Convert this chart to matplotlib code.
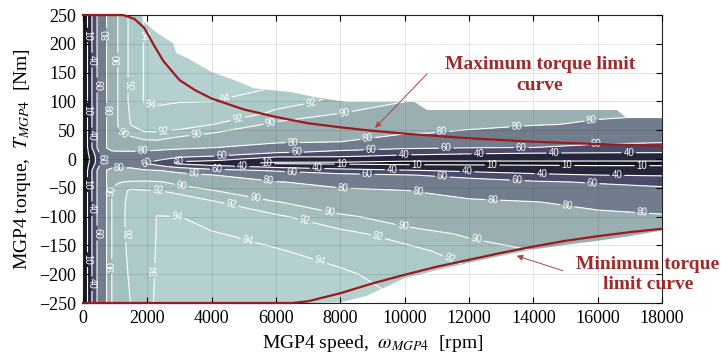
import matplotlib.pyplot as plt
import numpy as np
from matplotlib.patches import Polygon

plt.rcParams['font.family'] = 'serif'
plt.rcParams['font.serif'] = ['Liberation Serif', 'DejaVu Serif']
plt.rcParams['mathtext.fontset'] = 'stix'

# efficiency map nodes (speed columns x torque rows), efficiency in %
speed_rpm = [0, 150, 280, 440, 740, 900, 1100, 1500, 1900, 2300, 3000, 4000,
             6000, 8000, 10000, 12000, 14000, 16000, 18000]
torque_nm = [-250, -200, -160, -130, -100, -75, -55, -40, -28, -20, -13, -7, -2,
             5, 12, 20, 30, 45, 60, 80, 100, 130, 170, 210, 250]

eff_by_speed = [
    [3] * 25,
    [10.5] * 10 + [8, 5, 4, 5, 8] + [10.5] * 10,
    [40.5] * 10 + [32, 22, 20, 22, 32] + [40.5] * 10,
    [60.5] * 10 + [56, 51, 50, 51, 56] + [60.5] * 10,
    [80.5] * 10 + [77, 73, 72, 73, 77] + [80.5] * 10,
    [90.2] * 7 + [89.5, 86, 82.5, 78.5, 75, 74, 76, 79, 83, 85] + [85] * 8,
    [91.3] * 7 + [89.8, 85.5, 81.8, 79, 77.1, 75.5, 77.5, 79.4, 82.4, 86.5,
                  89.5, 90.4] + [90.5] * 6,
    [92.05, 92.25, 92.45, 92.6, 92.7, 92.6, 92.3, 90.5, 86.3, 82.1, 78.8, 76.5,
     74.5, 76.9, 79.3, 83.2, 88.4, 91.1, 92.1, 92.3] + [92.5] * 5,
    [93.2] * 5 + [92.9, 92.1, 90.6, 86.5, 81.8, 72.2, 60.5, 65, 72, 79, 83.9,
                  89.4, 91.87, 92.64, 93.55] + [94.1] * 5,
    [94.3, 94.2, 94.12, 94.06, 94.05, 92.98, 92.05, 90.44, 85.3, 80.6, 65, 52,
     61.2, 69.4, 77.6, 83.6, 89.6, 91.87, 92.78, 93.9, 94.06, 94.17, 94.3,
     94.45, 94.6],
    [94.6, 94.45, 94.3, 94.15, 94.02, 92.81, 91.63, 89.05, 83.3, 76.7, 53.3,
     35.3, 45, 65.5, 75.2, 82.4, 87.8, 91.57, 92.59, 93.56, 94.04, 94.15, 94.3,
     94.4, 94.5],
    [94.8, 94.5, 94.3, 94.1, 93.5, 92.25, 90.33, 85.3, 80.6, 66.3, 46.7, 25,
     43.5, 60.2, 70.4, 80.6, 84.3, 90.1, 92.05, 93, 94.02, 94.2, 94.45, 94.7,
     95],
    [94.6, 94.3, 94.1, 93.57, 92.3, 90.29, 85.1, 80.86, 69.1, 58.5, 34, 5,
     22.6, 44.6, 62.9, 74.3, 81.6, 85.5, 89.47, 91.8, 92.45, 94.3, 94.4, 94.4,
     94.4],
    [94.5, 94.18, 93.56, 92.47, 90.74, 86.7, 82.2, 75.35, 64.2, 50.7, 23.6, 4,
     24.3, 42.9, 56.2, 67.5, 80.1, 83.1, 86.25, 90.16, 91.76, 92.1, 92.2, 92.3,
     92.5],
    [94, 93.54, 92.5, 91.33, 88.25, 83.86, 80.35, 70.2, 61.1, 42.7, 19.07, 2,
     14.5, 35.5, 51, 63, 71.5, 80.88, 83.5, 87, 90.1, 90.2, 90.3, 90.4, 90.5],
    [93, 92.3, 91.32, 89.58, 85.35, 81.83, 75.6, 66.25, 55, 34.8, 16.7, 2,
     13.75, 31.25, 47, 61.05, 68.07, 78.6, 82.05, 85.2, 86.2, 86.5, 87, 87.5,
     88],
    [91, 90.5, 90.07, 87.2, 83.54, 80.49, 70.86, 62.3, 45.5, 29.3, 14.3, 2.5,
     13.3, 28.9, 44, 60.1, 65.7, 74.3, 80.67, 83.3, 84.1, 84.5, 85, 85.5, 86],
    [89, 88.5, 88.2, 86.53, 82.53, 77, 67, 58.5, 40.2, 25.4, 12.56, 2.5, 13.2,
     28.3, 42.5, 55.2, 63.6, 71.3, 79, 81.3, 82.3, 83, 83.5, 84, 85],
    [88, 87.2, 86.6, 86.1, 81.5, 72.9, 64.6, 54.7, 38.3, 24.5, 12.4, 2.5, 13.2,
     28.3, 41.9, 51.6, 61.5, 68.8, 76.1, 81, 81.5, 82, 82.7, 83.3, 84],
]

eff_levels = [0, 10, 40, 60, 80, 90, 92, 94, 100]
line_levels = [10, 40, 60, 80, 90, 92, 94]
fill_colors = ['#15151d', '#25253a', '#4b4b6b', '#717d8c', '#9aafb2',
               '#a5bfbf', '#adc9c8', '#b5d1cf']

# outline of the mapped operating region
top_edge_rpm = [0, 1850, 1850, 2300, 2800, 2900, 3250, 4000, 4700, 5300, 5600,
                6500, 7150, 8200, 10300, 10700, 16600, 16900, 18000]
top_edge_nm = [250, 250, 240, 219, 201, 184, 175, 151, 137, 123, 121, 116, 108,
               99, 99, 85, 85, 71, 71]
bottom_edge_rpm = [0, 7000, 8000, 8800, 10000, 11000, 12000, 13000, 14000,
                   15000, 16000, 17000, 18000]
bottom_edge_nm = [-250, -250, -249, -238, -207, -193, -180, -168, -157, -149,
                  -142, -134, -124]

# torque limit curves
max_rpm = [0, 1250, 1600, 1900, 2200, 2500, 3000, 3500, 4000, 5000, 6000, 7000,
           8000, 9000, 10000, 12000, 14000, 16000, 18000]
max_nm = [250, 250, 243, 228, 198, 170, 137, 119, 105, 86, 73, 62, 55, 49, 44,
          36, 30, 26, 23]
min_rpm = [0, 6500, 7000, 8000, 9000, 10000, 11000, 12000, 13000, 14000,
           15000, 16000, 17000, 18000]
min_nm = [-250, -250, -247, -233, -216, -201, -187, -175, -163, -152, -142,
          -134, -127, -121]

fig = plt.figure(figsize=(7.21, 3.59), dpi=100)
ax = fig.add_axes([83 / 721, 56 / 359, 579 / 721, 288 / 359])
ax.set_xlim(0, 18000)
ax.set_ylim(-250, 250)

S, T = np.meshgrid(speed_rpm, torque_nm)
E = np.array(eff_by_speed).T

outline = np.column_stack([np.r_[top_edge_rpm, bottom_edge_rpm[::-1]],
                           np.r_[top_edge_nm, bottom_edge_nm[::-1]]])
region = Polygon(outline, closed=True, transform=ax.transData)

cf = ax.contourf(S, T, E, levels=eff_levels, colors=fill_colors, zorder=1)
cf.set_clip_path(region)
cs = ax.contour(S, T, E, levels=line_levels, colors='white', linewidths=0.8,
                zorder=2)
cs.set_clip_path(region)

# spread labels along each line, roughly every 75 px, skipping crowded spots
pts, placed = [], []
for k, segs in enumerate(cs.allsegs):
    for seg in segs:
        if len(seg) < 2:
            continue
        xy = ax.transData.transform(seg)
        dist = np.r_[0, np.cumsum(np.hypot(*np.diff(xy, axis=0).T))]
        for d in np.arange(20 + (25 * k) % 75, dist[-1] - 12, 75):
            x = np.interp(d, dist, seg[:, 0])
            y = np.interp(d, dist, seg[:, 1])
            lo = np.interp(x, bottom_edge_rpm, bottom_edge_nm)
            hi = np.interp(x, top_edge_rpm, top_edge_nm)
            if not lo + 6 < y < hi - 6:
                continue
            px, py = ax.transData.transform((x, y))
            if all(abs(px - qx) > 17 or abs(py - qy) > 9 for qx, qy in placed):
                placed.append((px, py))
                pts.append((x, y))

with plt.rc_context({'font.family': 'Liberation Sans'}):
    ax.clabel(cs, manual=pts, fmt='%d', fontsize=7, inline_spacing=2,
              colors='white')

red = '#9c1a1c'
ax.plot(max_rpm, max_nm, color=red, lw=1.6, clip_on=False, zorder=4)
ax.plot(min_rpm, min_nm, color=red, lw=1.6, clip_on=False, zorder=4)

note = '#9e2a2b'
ax.text(14210, 146, 'Maximum torque limit\ncurve', ha='center', va='center',
        fontsize=14, fontweight='bold', color=note, linespacing=1.25)
ax.annotate('', xy=(9080, 54), xytext=(10700, 148),
            arrowprops=dict(arrowstyle='-|>', color='#b04544', lw=0.7,
                            mutation_scale=9, shrinkA=0, shrinkB=0))
ax.text(17566, -200, 'Minimum torque\nlimit curve', ha='center', va='center',
        fontsize=14, fontweight='bold', color=note, linespacing=1.25)
ax.annotate('', xy=(13480, -168), xytext=(14920, -194),
            arrowprops=dict(arrowstyle='-|>', color='#b04544', lw=0.7,
                            mutation_scale=9, shrinkA=0, shrinkB=0))

ax.set_xticks(np.arange(0, 18001, 2000))
ax.set_yticks(np.arange(-250, 251, 50))
ax.tick_params(direction='in', length=4, width=0.8, top=True, right=True,
               labelsize=13, pad=5)
ax.grid(True, color='0.15', alpha=0.15, lw=0.6)
ax.set_axisbelow(False)
for sp in ax.spines.values():
    sp.set_color('#222222')
    sp.set_linewidth(0.8)

ax.set_xlabel(r'MGP4 speed,  $\omega_{MGP4}$  [rpm]', fontsize=14, labelpad=4)
ax.set_ylabel(r'MGP4 torque,  $T_{MGP4}$  [Nm]', fontsize=14, labelpad=4)

fig.savefig('out.png', dpi=100)
